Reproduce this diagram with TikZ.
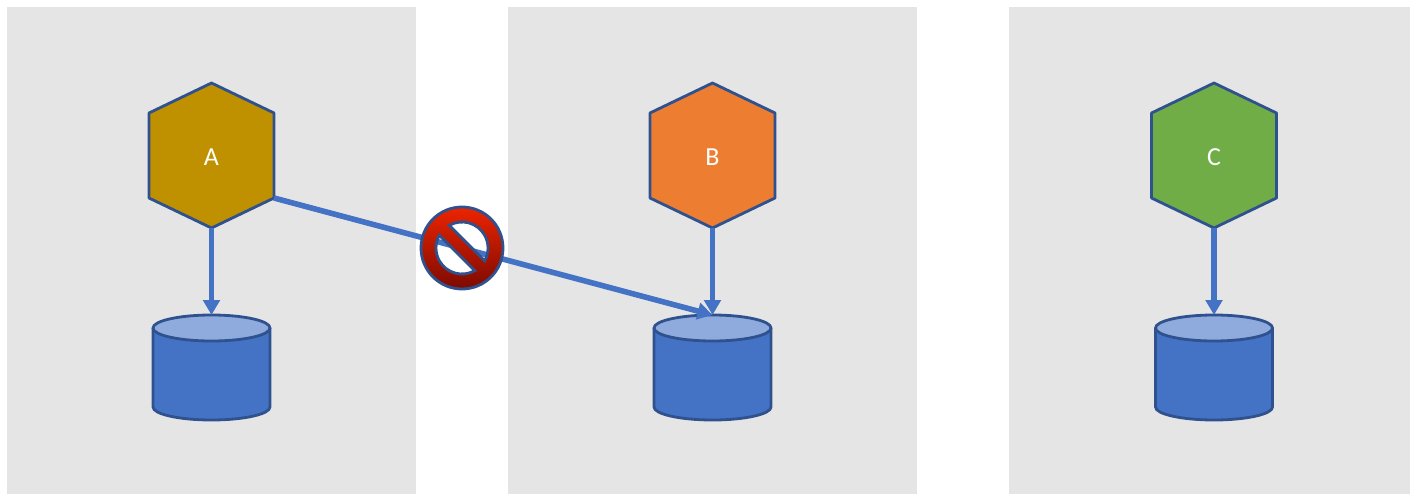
\documentclass[tikz,border=0pt]{standalone}
\usepackage{fontspec}
\setmainfont{Carlito}
\usepackage{xcolor}
\definecolor{cPanel}{HTML}{E5E5E5}
\definecolor{cBlue}{HTML}{4472C4}
\definecolor{cEdge}{HTML}{2F528F}
\definecolor{cTop}{HTML}{8FAADC}
\definecolor{cGold}{HTML}{BF9000}
\definecolor{cOrange}{HTML}{ED7D31}
\definecolor{cGreen}{HTML}{70AD47}
\definecolor{cRedTop}{HTML}{EC2400}
\definecolor{cRedMid}{HTML}{D41C00}
\definecolor{cRedLow}{HTML}{7C0A00}
\usetikzlibrary{calc, positioning, arrows.meta}
\tikzset{
	font = \fontsize{26pt}{30pt}\selectfont,
	panel/.style={
		fill=cPanel,
		minimum width=409pt,
		minimum height=487pt,
		inner sep=0pt,
		outer sep=0pt
	},
	service/.style={
		minimum width=125pt,
		minimum height=145pt,
		inner sep=0pt,
		outer sep=0pt
	},
	store/.style={
		minimum width=117pt,
		minimum height=105pt,
		inner sep=0pt,
		outer sep=0pt
	},
	outline/.style={
		draw=cEdge,
		line width=2.8pt,
		line join=round
	},
	hexlabel/.style={
		text=white,
		yshift=-1.5pt
	},
	edge/.style={
		draw=cBlue,
		line width=5.6pt,
		-{Triangle[length=15pt,width=16.5pt]}
	}
}
% hexagon over an empty node: name, colour, label
\newcommand{\drawhex}[3]{
	\coordinate (#1se) at ($(#1.south east)+(0,30pt)$);
	\draw[outline, fill=#2] (#1.north) -- ($(#1.north east)+(0,-30pt)$) -- (#1se) -- (#1.south)
		-- ($(#1.south west)+(0,30pt)$) -- ($(#1.north west)+(0,-30pt)$) -- cycle;
	\node[hexlabel] (#1text) at (#1) {#3};
}
% cylinder over an empty node: name
\newcommand{\drawstore}[1]{
	\draw[outline, fill=cBlue] ($(#1.north west)+(0,-13pt)$) -- ($(#1.south west)+(0,13pt)$)
		arc[start angle=180, end angle=360, x radius=58.5pt, y radius=13pt]
		-- ($(#1.north east)+(0,-13pt)$);
	\draw[outline, fill=cTop] ($(#1.north)+(0,-13pt)$) ellipse[x radius=58.5pt, y radius=13pt];
}
\begin{document}
\begin{tikzpicture}
		\useasboundingbox (0pt,0pt) rectangle (1410pt,-494pt);

		\node[panel, anchor=north west] (panelA) at (7pt,-7pt) {};
		\node[panel, right=92pt of panelA] (panelB) {};
		\node[panel, minimum width=401pt, right=92pt of panelB] (panelC) {};

		\node[service, below=76pt of panelA.north] (hexA) {};
		\node[service, below=76pt of panelB.north] (hexB) {};
		\node[service, below=76pt of panelC.north, xshift=4.5pt] (hexC) {};

		\node[store, below=87pt of hexA] (dbA) {};
		\node[store, below=87pt of hexB] (dbB) {};
		\node[store, below=87pt of hexC] (dbC) {};

		\drawstore{dbA}
		\drawstore{dbB}
		\drawstore{dbC}

		\drawhex{hexA}{cGold}{A}
		\drawhex{hexB}{cOrange}{B}
		\drawhex{hexC}{cGreen}{C}

		\draw[edge] (hexA.south) to (dbA.north);
		\draw[edge] (hexB.south) to (dbB.north);
		\draw[edge] (hexC.south) to (dbC.north);
		\draw[edge] (hexAse) to (dbB.north);

		% forbidden sign, the line shows through its two holes
		\coordinate (forbid) at (462pt,-248pt);
		\path[draw=cEdge, line width=2.8pt, top color=cRedTop, middle color=cRedMid, bottom color=cRedLow, even odd rule]
			(forbid) circle[radius=41pt]
			($(forbid)+(119.4:26pt)$) arc[start angle=119.4, end angle=-29.4, radius=26pt] -- cycle
			($(forbid)+(299.4:26pt)$) arc[start angle=299.4, end angle=150.6, radius=26pt] -- cycle;
\end{tikzpicture}
\end{document}
